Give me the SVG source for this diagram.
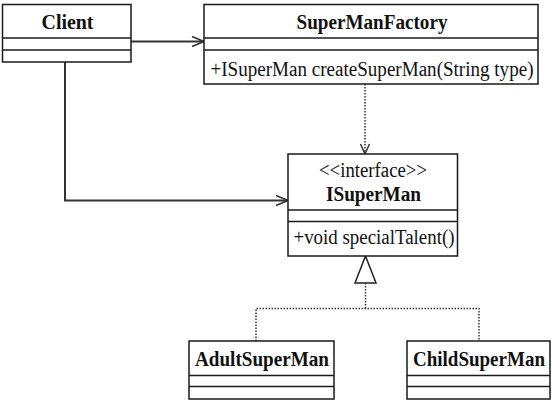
<svg xmlns="http://www.w3.org/2000/svg" width="554" height="402" viewBox="0 0 554 402">
<defs>
<style>
.box{fill:#fff;stroke:#1a1a1a;stroke-width:1.5}
.div{stroke:#1a1a1a;stroke-width:1.5}
.name{font-family:"Liberation Serif","Times New Roman",serif;font-weight:bold;font-size:20px;fill:#111;text-anchor:middle}
.txt{font-family:"Liberation Serif","Times New Roman",serif;font-size:20px;fill:#111}
.solid{fill:none;stroke:#333;stroke-width:2}
.dot{fill:none;stroke:#333;stroke-width:1.5;stroke-dasharray:1.5 1.5}
</style>
<marker id="open" markerWidth="14" markerHeight="12" refX="13" refY="6" orient="auto" markerUnits="userSpaceOnUse">
<path d="M1,1 L13,6 L1,11" fill="none" stroke="#333" stroke-width="1.6"/>
</marker>
<marker id="openSmall" markerWidth="12" markerHeight="14" refX="11" refY="6" orient="auto" markerUnits="userSpaceOnUse">
<path d="M1,1.5 L11,6 L1,10.5" fill="none" stroke="#333" stroke-width="1.5"/>
</marker>
</defs>
<g id="connectors">
<line class="solid" x1="131" y1="41.5" x2="204" y2="41.5" marker-end="url(#open)"/>
<polyline class="solid" points="65,62 65,200.5 288,200.5" marker-end="url(#open)"/>
<line class="dot" x1="365" y1="84" x2="365" y2="154" marker-end="url(#openSmall)"/>
<polyline class="dot" points="256,341 256,308.5 479,308.5 479,341"/>
<line class="dot" x1="365.5" y1="283" x2="365.5" y2="308.5"/>
<polygon points="365.5,256 355,283 376,283" fill="#fff" stroke="#222" stroke-width="1.5"/>
</g>
<g id="Client">
<rect class="box" x="2.5" y="4.5" width="128.5" height="57.5"/>
<line class="div" x1="2.5" y1="38" x2="131" y2="38"/>
<line class="div" x1="2.5" y1="50" x2="131" y2="50"/>
<text class="name" x="67.5" y="28.5" textLength="52" lengthAdjust="spacingAndGlyphs">Client</text>
</g>
<g id="SuperManFactory">
<rect class="box" x="204" y="4.5" width="334" height="79.5"/>
<line class="div" x1="204" y1="38" x2="538" y2="38"/>
<line class="div" x1="204" y1="50" x2="538" y2="50"/>
<text class="name" x="372" y="28.5" textLength="151" lengthAdjust="spacingAndGlyphs">SuperManFactory</text>
<text class="txt" x="210.5" y="75.5" textLength="323" lengthAdjust="spacingAndGlyphs">+ISuperMan createSuperMan(String type)</text>
</g>
<g id="ISuperMan">
<rect class="box" x="288" y="154" width="169.5" height="102"/>
<line class="div" x1="288" y1="210" x2="457.5" y2="210"/>
<line class="div" x1="288" y1="221.5" x2="457.5" y2="221.5"/>
<text class="txt" x="373" y="177" text-anchor="middle" textLength="108" lengthAdjust="spacingAndGlyphs">&lt;&lt;interface&gt;&gt;</text>
<text class="name" x="373.5" y="200.5" textLength="95" lengthAdjust="spacingAndGlyphs">ISuperMan</text>
<text class="txt" x="293.5" y="243.5" textLength="161" lengthAdjust="spacingAndGlyphs">+void specialTalent()</text>
</g>
<g id="AdultSuperMan">
<rect class="box" x="189" y="341" width="145" height="58"/>
<line class="div" x1="189" y1="375.5" x2="334" y2="375.5"/>
<line class="div" x1="189" y1="386.5" x2="334" y2="386.5"/>
<text class="name" x="262" y="365.5" textLength="134" lengthAdjust="spacingAndGlyphs">AdultSuperMan</text>
</g>
<g id="ChildSuperMan">
<rect class="box" x="407" y="341" width="143" height="58"/>
<line class="div" x1="407" y1="375.5" x2="550" y2="375.5"/>
<line class="div" x1="407" y1="386.5" x2="550" y2="386.5"/>
<text class="name" x="479" y="365.5" textLength="132" lengthAdjust="spacingAndGlyphs">ChildSuperMan</text>
</g>
</svg>
